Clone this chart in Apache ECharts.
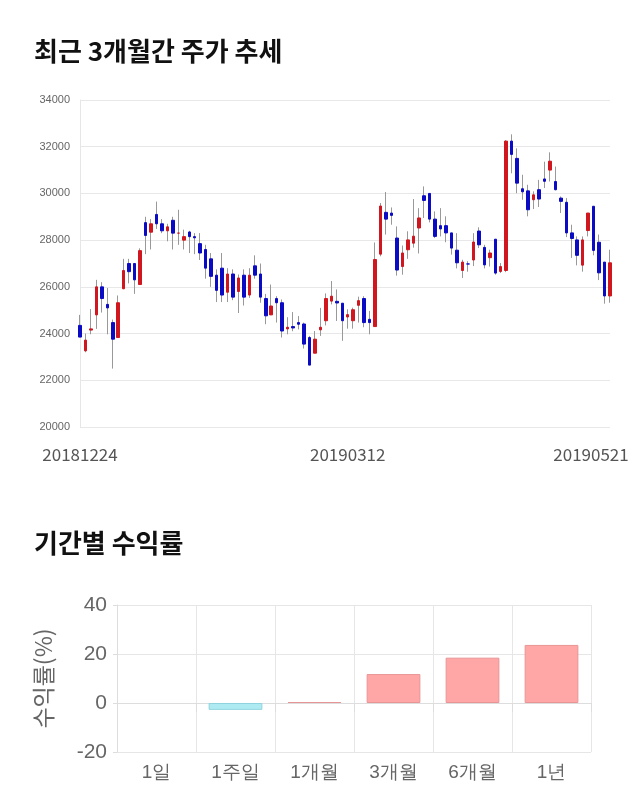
<!DOCTYPE html>
<html>
<head>
<meta charset="utf-8">
<script src="https://cdn.jsdelivr.net/npm/echarts@6/dist/echarts.min.js"></script>
<style>
html,body{margin:0;padding:0;background:#fff;}
#c{width:640px;height:810px;}
</style>
</head>
<body>
<div id="c"></div>
<script>
const dates = [
'20181224','20181226','20181227','20181228',
'20190102','20190103','20190104','20190107','20190108','20190109','20190110','20190111','20190114','20190115','20190116','20190117','20190118','20190121','20190122','20190123','20190124','20190125','20190128','20190129','20190130','20190131',
'20190201','20190207','20190208','20190211','20190212','20190213','20190214','20190215','20190218','20190219','20190220','20190221','20190222','20190225','20190226','20190227','20190228',
'20190304','20190305','20190306','20190307','20190308','20190311','20190312','20190313','20190314','20190315','20190318','20190319','20190320','20190321','20190322','20190325','20190326','20190327','20190328','20190329',
'20190401','20190402','20190403','20190404','20190405','20190408','20190409','20190410','20190411','20190412','20190415','20190416','20190417','20190418','20190419','20190422','20190423','20190424','20190425','20190426','20190429','20190430',
'20190502','20190503','20190507','20190508','20190509','20190510','20190513','20190514','20190515','20190516','20190517','20190520','20190521'
];
const opens = [24350,23260,24150,24800,26000,25250,24470,23830,25920,27000,27000,26100,28750,28340,29100,28700,28400,28850,28300,28000,28350,28150,27850,27600,27200,26500,26800,25770,26550,25800,26500,25650,26900,26550,25500,24800,25500,25320,24200,24300,24470,24410,23830,23160,24160,24550,25390,25380,25300,24710,24550,25210,25500,24610,24300,27400,29190,29160,28090,26870,27590,27870,28520,29900,30000,28900,28620,28620,28310,27570,26700,26980,27150,28390,27690,27250,28040,26660,26700,32240,31500,30200,30110,29730,30160,30620,31000,30510,29800,29620,28310,28010,26930,28410,29450,27910,27060,25610];
const closes = [23850,23720,24200,26000,25500,25100,23760,25320,26700,26650,26300,27550,28200,28700,28700,28400,28570,28300,28300,28150,28150,28100,27450,26800,26450,25850,25650,26550,25560,26380,25560,26500,26500,25560,24760,25180,25320,24110,24270,24240,24400,23550,22650,23760,24270,25500,25600,25310,24550,24810,25020,25410,24470,24470,27170,29460,28900,29060,26720,27450,28010,28170,28950,29700,28900,28160,28480,28310,27660,27030,27060,26980,27920,27800,26940,27450,26590,26870,32240,31670,30440,30070,29300,29940,29760,30520,31380,30160,29660,28310,28070,27350,28010,29160,27560,26600,25610,27030];
const lows = [23850,23200,23970,24200,24900,23970,22500,23830,25900,26150,25700,26100,27400,27600,28480,28300,27950,27600,27800,27600,27450,27400,27150,26350,26000,25350,25350,25350,25430,24880,25200,25530,26350,25320,24400,24800,24470,23830,23970,24100,24180,23360,22650,23160,23900,24350,25250,24540,23690,24210,24210,24470,24270,23970,24300,27310,28240,28660,26480,26520,27200,27680,27430,28950,28760,28090,28160,27910,27380,26790,26380,26650,26890,27660,26790,26870,26520,26590,26630,30860,30010,29730,29020,29330,29420,30230,30510,30130,29160,28130,27240,26920,26650,28160,27350,26290,25280,25320];
const highs = [24800,24000,25050,26300,26200,25950,24600,25630,27200,27200,27000,27650,29000,28900,29650,28900,28700,29000,29300,28450,28400,28300,28300,27800,27450,26750,27450,26800,26750,26530,26750,26800,27350,27000,25700,26100,25600,25460,24700,24920,24750,24470,23900,24110,25100,25720,26250,25890,25300,25040,25110,25580,25600,24970,27900,29590,30060,29400,28590,27770,28380,29760,29370,30300,30010,29230,29370,29020,28310,28300,27160,27100,28300,28550,27800,27590,28040,27020,32280,32530,31930,30800,30370,30090,30580,31360,31760,31150,29870,29800,28660,28160,28160,29160,29450,28240,27060,27590];
const priceTicks = [20000,22000,24000,26000,28000,30000,32000,34000];
const shownDateIdx = [0,49,97];

const periods = ['1일','1주일','1개월','3개월','6개월','1년'];
const returns = [0,-2.8,0.4,11.8,18.5,23.7];

const RED = '#d0161e', BLUE = '#0b0bc4', WICK = '#999999';
const wickData = opens.map((o,i)=>[o,closes[i],lows[i],highs[i]]);
const bodyData = opens.map((o,i)=>[o,closes[i],Math.min(o,closes[i]),Math.max(o,closes[i])]);

const chart = echarts.init(document.getElementById('c'), null, {renderer:'canvas'});
chart.setOption({
  animation:false,
  backgroundColor:'#fff',
  title:[
    {text:'최근 3개월간 주가 추세', left:29, top:33, textStyle:{fontFamily:'Noto Sans CJK KR', fontSize:26, fontWeight:'bold', color:'#111'}},
    {text:'기간별 수익률', left:29, top:525, textStyle:{fontFamily:'Noto Sans CJK KR', fontSize:26, fontWeight:'bold', color:'#111'}}
  ],
  grid:[
    {left:80, right:30, top:100, bottom:383},
    {left:117, right:49, top:605, bottom:58}
  ],
  xAxis:[
    {gridIndex:0, type:'category', data:dates, boundaryGap:false,
     axisLine:{show:false}, axisTick:{show:false}, splitLine:{show:false},
     axisLabel:{interval:(i)=>shownDateIdx.indexOf(i)>=0, showMinLabel:true, showMaxLabel:true, hideOverlap:false,
       fontFamily:'Noto Sans CJK KR', fontSize:17, color:'#555', margin:19,
       formatter:(v,i)=> i===dates.length-1 ? '{r|'+v+'}' : v,
       rich:{r:{fontFamily:'Noto Sans CJK KR', fontSize:17, color:'#555', padding:[0,38,0,0]}}}},
    {gridIndex:1, type:'category', data:periods, boundaryGap:true,
     axisLine:{show:true, lineStyle:{color:'#dddddd'}}, axisTick:{show:true, length:9, lineStyle:{color:'#dddddd'}},
     splitLine:{show:true, lineStyle:{color:'#e6e6e6'}},
     axisLabel:{fontFamily:'Liberation Sans', fontSize:19, color:'#666', margin:11}}
  ],
  yAxis:[
    {gridIndex:0, type:'value', min:20000, max:34000, interval:2000,
     axisLine:{show:true, lineStyle:{color:'#e6e6e6'}}, axisTick:{show:false},
     splitLine:{lineStyle:{color:'#e8e8e8'}},
     axisLabel:{fontFamily:'Liberation Sans', fontSize:11, color:'#666', margin:10, formatter:(v)=>String(v)}},
    {gridIndex:1, type:'value', min:-20, max:40, interval:20,
     name:'수익률(%)', nameLocation:'middle', nameRotate:90, nameGap:62,
     nameTextStyle:{fontFamily:'Noto Sans CJK KR', fontSize:23, color:'#666'},
     axisLine:{show:true, lineStyle:{color:'#dddddd'}}, axisTick:{show:true, length:4, lineStyle:{color:'#dddddd'}},
     splitLine:{lineStyle:{color:'#e6e6e6'}},
     axisLabel:{fontFamily:'Liberation Sans', fontSize:21, color:'#666', margin:10}}
  ],
  series:[
    {type:'candlestick', xAxisIndex:0, yAxisIndex:0, data:wickData, barWidth:1,
     itemStyle:{color:WICK, color0:WICK, borderColor:WICK, borderColor0:WICK, borderWidth:1}},
    {type:'candlestick', xAxisIndex:0, yAxisIndex:0, data:bodyData, barWidth:3,
     itemStyle:{color:RED, color0:BLUE, borderColor:RED, borderColor0:BLUE, borderWidth:1}},
    {type:'bar', xAxisIndex:1, yAxisIndex:1, data:returns.map(v=>({value:v,
       itemStyle:{color: v<0 ? '#aeeaf2' : '#ffa6a6', borderColor: v<0 ? '#8fd3de' : '#e99494', borderWidth: v===0 ? 0 : 1}})),
     barWidth:'68%'}
  ]
});
</script>
</body>
</html>
